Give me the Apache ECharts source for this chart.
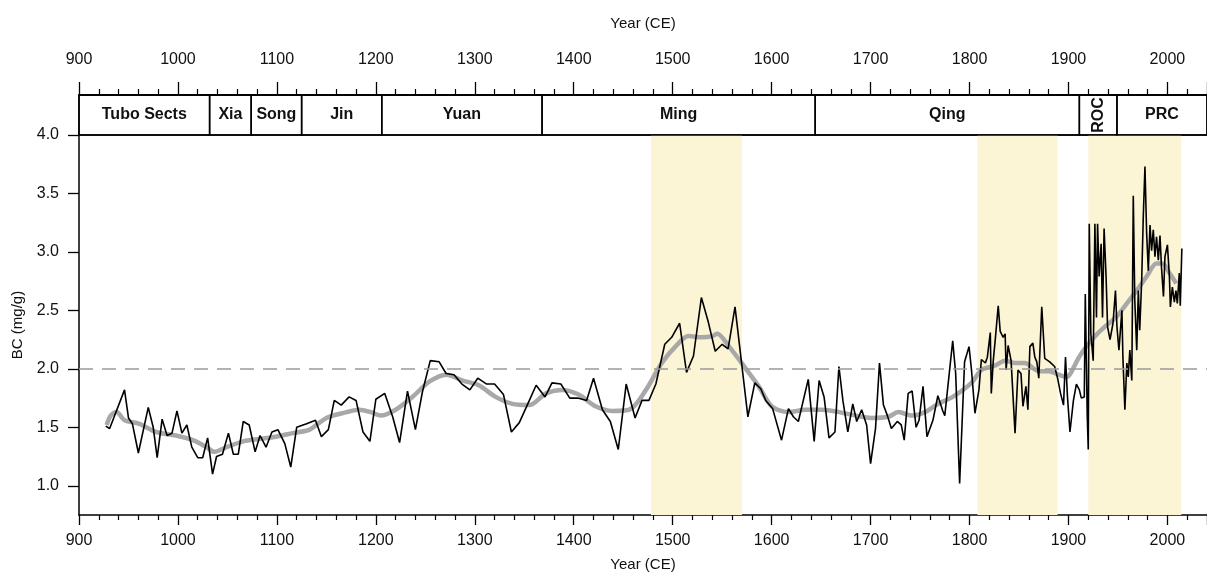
<!DOCTYPE html>
<html>
<head>
<meta charset="utf-8">
<script src="https://cdn.jsdelivr.net/npm/echarts@6/dist/echarts.min.js"></script>
<style>
  html, body { margin: 0; padding: 0; background: #fff; }
  #chart { width: 1207px; height: 579px; }
</style>
</head>
<body>
<div id="chart"></div>
<script>
// BC record, yearly-ish samples (black line)
const years = [
  927, 931, 946, 950, 954, 960, 970, 975, 979, 984,
  989, 994, 999, 1004, 1009, 1014, 1020, 1025, 1030, 1035,
  1039, 1045, 1051, 1056, 1061, 1066, 1072, 1078, 1083, 1089,
  1095, 1101, 1108, 1114, 1120, 1130, 1139, 1145, 1152, 1158,
  1165, 1173, 1180, 1187, 1194, 1200, 1209, 1217, 1224, 1232,
  1240, 1247, 1255, 1264, 1271, 1279, 1287, 1295, 1303, 1312,
  1320, 1329, 1337, 1345, 1353, 1362, 1371, 1378, 1387, 1396,
  1404, 1413, 1420, 1429, 1437, 1445, 1453, 1462, 1469, 1476,
  1483, 1492, 1499, 1507, 1514, 1521, 1529, 1536, 1543, 1550,
  1556, 1563, 1576, 1583, 1589, 1594, 1601, 1610, 1617, 1622,
  1627, 1637, 1643, 1648, 1653, 1658, 1664, 1668, 1672, 1677,
  1682, 1686, 1691, 1696, 1700, 1705, 1709, 1713, 1717, 1721,
  1727, 1731, 1734, 1738, 1742, 1746, 1749, 1753, 1757, 1763,
  1768, 1773, 1775, 1783, 1786, 1790, 1795, 1799.5, 1802, 1805.5,
  1809.5, 1812, 1816, 1818, 1821, 1822, 1824, 1826, 1829, 1831,
  1834, 1836, 1837, 1839, 1842, 1846, 1849, 1852, 1854, 1857,
  1859, 1861, 1864, 1866, 1868, 1870, 1873, 1876, 1881, 1886,
  1889, 1892, 1895, 1897, 1899, 1901.5, 1905, 1908, 1911, 1913,
  1916, 1917, 1919, 1920, 1921, 1922.6, 1925, 1926.7, 1928.3, 1929.4,
  1931, 1933, 1934.4, 1936, 1938, 1939.5, 1942, 1945, 1947.5, 1949,
  1951, 1954, 1955, 1957, 1959, 1960.4, 1962, 1964, 1965.5, 1967,
  1969, 1970.6, 1972, 1974, 1975.6, 1977.3, 1979, 1980.7, 1982.4, 1984,
  1985.7, 1987.4, 1989, 1990.8, 1992.5, 1994, 1996, 1997.5, 2000, 2002,
  2003, 2005, 2007, 2008.6, 2010, 2012, 2013, 2014.6
]
const bc = [
  1.51, 1.49, 1.82, 1.58, 1.53, 1.28, 1.67, 1.50, 1.24, 1.57,
  1.43, 1.45, 1.64, 1.45, 1.52, 1.33, 1.24, 1.24, 1.41, 1.10,
  1.25, 1.27, 1.45, 1.27, 1.27, 1.55, 1.52, 1.29, 1.43, 1.33,
  1.46, 1.48, 1.36, 1.16, 1.50, 1.53, 1.56, 1.42, 1.48, 1.73,
  1.69, 1.76, 1.73, 1.46, 1.38, 1.74, 1.79, 1.59, 1.37, 1.81,
  1.48, 1.80, 2.07, 2.06, 1.96, 1.95, 1.87, 1.82, 1.92, 1.87,
  1.87, 1.78, 1.46, 1.54, 1.69, 1.86, 1.76, 1.88, 1.87, 1.75,
  1.75, 1.73, 1.92, 1.65, 1.55, 1.31, 1.87, 1.58, 1.73, 1.73,
  1.87, 2.21, 2.27, 2.39, 1.97, 2.11, 2.61, 2.40, 2.15, 2.21,
  2.17, 2.53, 1.59, 1.88, 1.83, 1.73, 1.66, 1.39, 1.66, 1.59,
  1.55, 1.91, 1.38, 1.90, 1.76, 1.41, 1.46, 2.02, 1.73, 1.46,
  1.70, 1.55, 1.65, 1.52, 1.19, 1.49, 2.05, 1.69, 1.60, 1.49,
  1.55, 1.52, 1.39, 1.79, 1.81, 1.50, 1.56, 1.85, 1.42, 1.56,
  1.77, 1.64, 1.60, 2.24, 1.96, 1.02, 2.06, 2.19, 1.99, 1.62,
  1.82, 2.08, 2.05, 2.10, 2.31, 1.79, 2.07, 2.25, 2.54, 2.32,
  2.27, 2.30, 1.99, 2.20, 2.07, 1.45, 1.99, 1.96, 1.68, 1.85,
  1.65, 2.19, 2.22, 2.10, 2.06, 1.92, 2.53, 2.09, 2.06, 2.02,
  1.92, 1.79, 1.69, 2.10, 1.76, 1.46, 1.73, 1.87, 1.82, 1.75,
  1.76, 2.64, 1.59, 1.31, 3.24, 2.30, 2.07, 3.24, 2.44, 3.24,
  2.79, 3.07, 2.44, 3.20, 2.79, 2.36, 2.25, 2.39, 2.67, 2.36,
  2.16, 2.50, 2.10, 1.65, 2.05, 1.93, 2.16, 1.90, 3.48, 2.59,
  2.16, 2.67, 2.33, 2.76, 3.30, 3.73, 3.16, 2.84, 3.23, 3.01,
  3.19, 2.96, 3.13, 2.93, 3.14, 2.87, 2.62, 2.96, 3.06, 2.79,
  2.53, 2.70, 2.57, 2.67, 2.56, 2.82, 2.54, 3.03
]

// smoothed curve (grey line)
const smoothYears = [
  928, 932, 938, 946, 961, 978, 998, 1015, 1029, 1037,
  1049, 1066, 1082, 1099, 1116, 1133, 1150, 1166, 1183, 1195,
  1205, 1220, 1237, 1254, 1271, 1288, 1304, 1321, 1338, 1355,
  1372, 1388, 1405, 1422, 1439, 1456, 1473, 1489, 1506, 1516,
  1530, 1540, 1545, 1557, 1574, 1587, 1600, 1617, 1634, 1651,
  1668, 1685, 1701, 1718, 1728, 1742, 1755, 1768, 1783, 1802,
  1812, 1826, 1836, 1846, 1856, 1870, 1880, 1890, 1898, 1902,
  1910, 1918, 1928, 1938, 1948, 1959, 1969, 1979, 1989, 1995,
  2002, 2009
]
const smoothBc = [
  1.52, 1.60, 1.63, 1.56, 1.53, 1.46, 1.43, 1.39, 1.33, 1.29,
  1.33, 1.38, 1.40, 1.42, 1.45, 1.48, 1.58, 1.62, 1.65, 1.63,
  1.60, 1.65, 1.76, 1.89, 1.95, 1.90, 1.86, 1.76, 1.70, 1.69,
  1.79, 1.82, 1.78, 1.68, 1.64, 1.65, 1.82, 2.05, 2.22, 2.28,
  2.27, 2.28, 2.30, 2.19, 2.00, 1.85, 1.68, 1.63, 1.65, 1.65,
  1.63, 1.60, 1.58, 1.59, 1.63, 1.60, 1.63, 1.70, 1.76, 1.88,
  1.99, 2.03, 2.07, 2.05, 2.05, 1.98, 1.98, 1.95, 1.93, 1.96,
  2.09, 2.19, 2.29, 2.37, 2.44, 2.56, 2.67, 2.79, 2.90, 2.90,
  2.82, 2.73
]

// dynasties in the top box
const periodNames = ['Tubo Sects', 'Xia', 'Song', 'Jin', 'Yuan', 'Ming', 'Qing', 'ROC', 'PRC']
const periodStart = [900, 1032, 1074, 1125, 1206, 1368, 1644, 1911, 1949]
const periodEnd = [1032, 1074, 1125, 1206, 1368, 1644, 1911, 1949, 2040]

// shaded intervals
const bandStart = [1478, 1808, 1920]
const bandEnd = [1570, 1889, 2014]

const yTicks = [1.0, 1.5, 2.0, 2.5, 3.0, 3.5, 4.0]
const threshold = 2.0

const FONT = '"Liberation Sans", Arial, sans-serif'

const myChart = echarts.init(document.getElementById('chart'))

const options = {
  animation: false,
  backgroundColor: '#fff',
  textStyle: { fontFamily: FONT },
  grid: [
    { left: 79, right: -2, top: 135, bottom: 64 },
    { left: 79, right: -2, top: 95, height: 40, show: true, borderColor: '#000', borderWidth: 1.5 }
  ],
  xAxis: [
    {
      type: 'value',
      gridIndex: 0,
      min: 900,
      max: 2040,
      interval: 100,
      splitNumber: 5,
      name: 'Year (CE)',
      nameLocation: 'middle',
      nameGap: 42,
      nameTextStyle: { color: '#111', fontSize: 15, fontFamily: FONT },
      axisLine: { onZero: false, lineStyle: { color: '#000', width: 1.5 } },
      axisTick: { length: 10, lineStyle: { color: '#000', width: 1.3 } },
      minorTick: { show: true, splitNumber: 5, length: 5, lineStyle: { color: '#000', width: 1.2 } },
      splitLine: { show: false },
      axisLabel: {
        color: '#111', fontSize: 16, margin: 18, showMaxLabel: false, fontFamily: FONT,
        formatter: (v) => String(v)
      }
    },
    {
      type: 'value',
      gridIndex: 1,
      position: 'top',
      min: 900,
      max: 2040,
      interval: 100,
      name: 'Year (CE)',
      nameLocation: 'middle',
      nameGap: 64,
      nameTextStyle: { color: '#111', fontSize: 15, fontFamily: FONT },
      axisLine: { onZero: false, lineStyle: { color: '#000', width: 1.5 } },
      axisTick: { length: 13, lineStyle: { color: '#000', width: 1.3 } },
      minorTick: { show: true, splitNumber: 5, length: 6, lineStyle: { color: '#000', width: 1.2 } },
      splitLine: { show: false },
      axisLabel: {
        color: '#111', fontSize: 16, margin: 27, showMaxLabel: false, fontFamily: FONT,
        formatter: (v) => String(v)
      }
    }
  ],
  yAxis: [
    {
      type: 'value',
      gridIndex: 0,
      min: 0.75,
      max: 4.0,
      name: 'BC (mg/g)',
      nameLocation: 'middle',
      nameRotate: 90,
      nameGap: 52,
      nameTextStyle: { color: '#111', fontSize: 15, fontFamily: FONT },
      axisLine: { show: true, onZero: false, lineStyle: { color: '#000', width: 1.5 } },
      axisTick: { show: true, length: 11, customValues: yTicks, lineStyle: { color: '#000', width: 1.3 } },
      splitLine: { show: false },
      axisLabel: {
        color: '#111',
        fontSize: 16,
        margin: 20,
        fontFamily: FONT,
        customValues: yTicks,
        formatter: (v) => v.toFixed(1)
      }
    },
    { type: 'value', gridIndex: 1, min: 0, max: 1, show: false }
  ],
  series: [
    {
      // shaded intervals + 2.0 reference line
      type: 'custom',
      xAxisIndex: 0,
      yAxisIndex: 0,
      z: 1,
      silent: true,
      data: bandStart.map((s, i) => [s, bandEnd[i]]),
      encode: { x: [0, 1] },
      renderItem: (params, api) => {
        const p0 = api.coord([api.value(0), 4.0])
        const p1 = api.coord([api.value(1), 0.75])
        return {
          type: 'rect',
          shape: { x: p0[0], y: p0[1], width: p1[0] - p0[0], height: p1[1] - p0[1] },
          style: { fill: '#FBF4D5' }
        }
      },
      markLine: {
        silent: true,
        symbol: 'none',
        label: { show: false },
        lineStyle: { color: '#9a9a9a', width: 1.5, type: [14, 9] },
        data: [{ yAxis: threshold }]
      }
    },
    {
      name: 'smoothed',
      type: 'line',
      xAxisIndex: 0,
      yAxisIndex: 0,
      z: 3,
      smooth: 0.3,
      showSymbol: false,
      lineStyle: { color: '#A8A8A8', width: 4.5 },
      data: smoothYears.map((y, i) => [y, smoothBc[i]])
    },
    {
      name: 'BC',
      type: 'line',
      xAxisIndex: 0,
      yAxisIndex: 0,
      z: 4,
      showSymbol: false,
      lineStyle: { color: '#000', width: 1.6 },
      data: years.map((y, i) => [y, bc[i]])
    },
    {
      // dynasty boxes
      type: 'custom',
      xAxisIndex: 1,
      yAxisIndex: 1,
      silent: true,
      data: periodStart.map((s, i) => [s, periodEnd[i]]),
      encode: { x: [0, 1] },
      renderItem: (params, api) => {
        const p0 = api.coord([api.value(0), 1])
        const p1 = api.coord([api.value(1), 0])
        const name = periodNames[params.dataIndex]
        return {
          type: 'group',
          children: [
            {
              type: 'rect',
              shape: { x: p0[0], y: p0[1], width: p1[0] - p0[0], height: p1[1] - p0[1] },
              style: { fill: 'none', stroke: '#000', lineWidth: 1.5 }
            },
            {
              type: 'text',
              x: (p0[0] + p1[0]) / 2,
              y: (p0[1] + p1[1]) / 2,
              rotation: name === 'ROC' ? Math.PI / 2 : 0,
              style: {
                text: name,
                align: 'center',
                verticalAlign: 'middle',
                fill: '#111',
                font: 'bold 16px ' + FONT
              }
            }
          ]
        }
      }
    }
  ]
}

myChart.setOption(options)
</script>
</body>
</html>
